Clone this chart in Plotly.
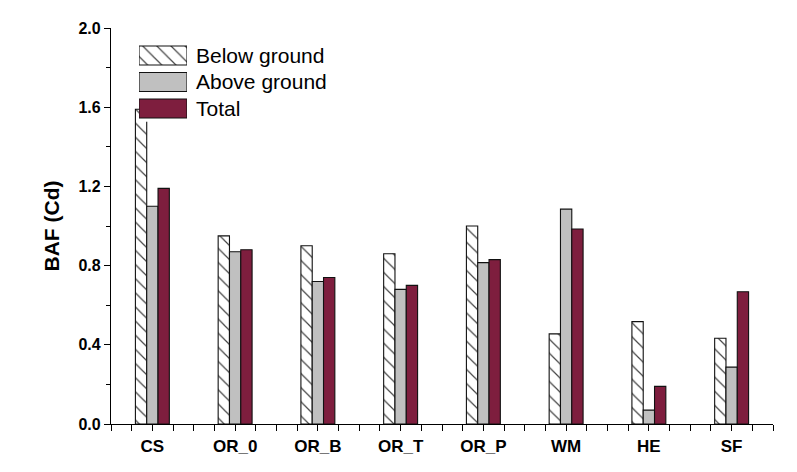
import plotly.graph_objects as go

# Bioaccumulation factors of Cd per treatment
categories = ["CS", "OR_0", "OR_B", "OR_T", "OR_P", "WM", "HE", "SF"]
below_ground = [1.59, 0.95, 0.90, 0.86, 1.00, 0.455, 0.517, 0.433]
above_ground = [1.10, 0.87, 0.72, 0.68, 0.815, 1.085, 0.07, 0.287]
total = [1.19, 0.88, 0.74, 0.70, 0.83, 0.985, 0.19, 0.668]

series_names = ["Below ground", "Above ground", "Total"]
gray = "#c0c0c0"
maroon = "#7e1e3e"
font_family = "Arial, Liberation Sans, sans-serif"

positions = list(range(len(categories)))

hatch = dict(shape="\\", size=10, solidity=0.12, fgcolor="#444444", bgcolor="white", fillmode="replace")
outline = dict(color="#111111", width=1.1)

fig = go.Figure()
fig.add_trace(go.Bar(x=positions, y=below_ground, name=series_names[0],
                     marker=dict(color="white", pattern=hatch, line=outline)))
fig.add_trace(go.Bar(x=positions, y=above_ground, name=series_names[1],
                     marker=dict(color=gray, line=outline)))
fig.add_trace(go.Bar(x=positions, y=total, name=series_names[2],
                     marker=dict(color=maroon, line=outline)))

# Legend drawn as a small bar panel on its own axes so the swatches are wide
legend_x_domain = [0.0423, 0.1148]
legend_y_domain = [0.7633, 0.964]
legend_text_x = 0.1254
legend_styles = [
    dict(color="white", pattern=hatch, line=outline),
    dict(color=gray, line=outline),
    dict(color=maroon, line=outline),
]
n_rows = len(series_names)
row_h = (legend_y_domain[1] - legend_y_domain[0]) / n_rows
for i, (name, style) in enumerate(zip(series_names, legend_styles)):
    fig.add_trace(go.Bar(x=[1], y=[i], orientation="h", marker=style,
                         xaxis="x2", yaxis="y2", showlegend=False,
                         hoverinfo="skip", width=0.72))
    fig.add_annotation(x=legend_text_x, y=legend_y_domain[1] - (i + 0.5) * row_h,
                       xref="paper", yref="paper", text=name,
                       showarrow=False, xanchor="left", yanchor="middle",
                       font=dict(family=font_family, size=21, color="black"))

axis_line = dict(showline=True, linecolor="black", linewidth=1.3, mirror=False,
                 showgrid=False, zeroline=False, ticks="outside",
                 tickcolor="black", tickwidth=1.2)

fig.update_layout(
    width=797, height=472,
    margin=dict(l=111, r=24, t=28, b=48),
    paper_bgcolor="white", plot_bgcolor="white",
    barmode="group", bargap=0.59, bargroupgap=0,
    showlegend=False,
    font=dict(family=font_family, color="black"),
    xaxis=dict(**axis_line, range=[-0.5, len(categories) - 0.5],
               tickmode="array", tickvals=positions, ticktext=categories,
               ticklen=6,
               tickfont=dict(family=font_family, size=17, color="black", weight="bold"),
               minor=dict(tickmode="linear", tick0=0, dtick=0.25, ticks="outside",
                          ticklen=6, tickcolor="black", tickwidth=1.2, showgrid=False)),
    yaxis=dict(**axis_line, range=[0, 2.0], tickmode="linear", tick0=0, dtick=0.4,
               tickformat=".1f", ticklen=6,
               tickfont=dict(family=font_family, size=16, color="black", weight="bold"),
               minor=dict(tickmode="linear", tick0=0, dtick=0.2, ticks="outside",
                          ticklen=4, tickcolor="black", tickwidth=1.2, showgrid=False),
               title=dict(text="BAF (Cd)", standoff=13,
                          font=dict(family=font_family, size=21, color="black", weight="bold"))),
    xaxis2=dict(domain=legend_x_domain, range=[0, 1], visible=False, fixedrange=True,
                anchor="y2"),
    yaxis2=dict(domain=legend_y_domain, range=[n_rows - 0.5, -0.5], visible=False,
                fixedrange=True, anchor="x2"),
)

fig.write_html("out.html")
